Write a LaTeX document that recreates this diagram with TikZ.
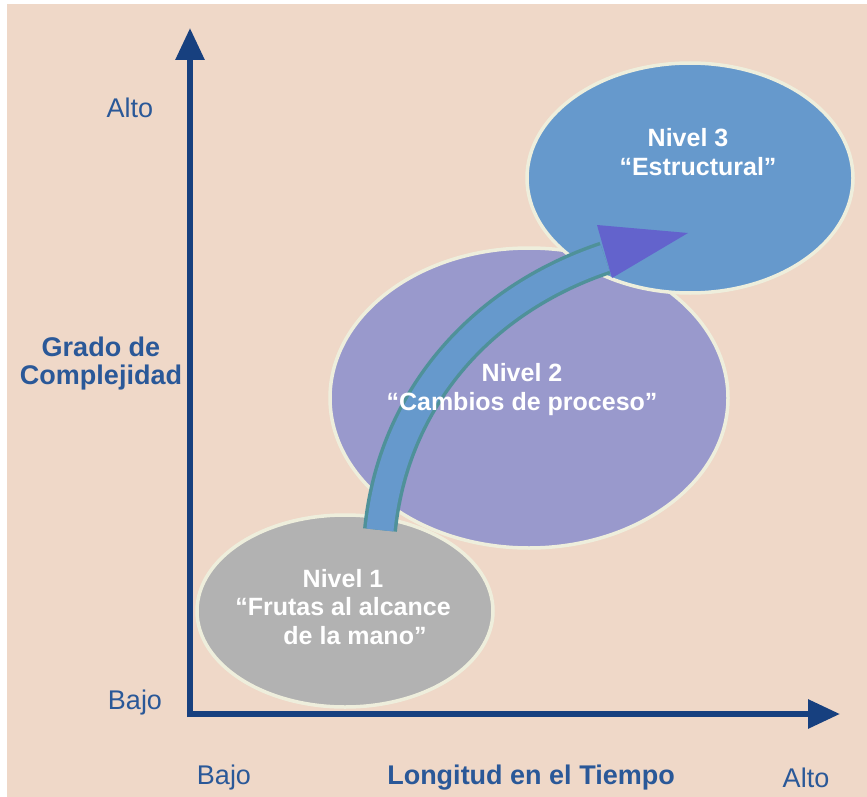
\documentclass[tikz,border=0pt]{standalone}
\usepackage{fontspec}
\setmainfont{Liberation Sans}
\usetikzlibrary{shapes.geometric,arrows.meta,calc}

\definecolor{peach}{HTML}{EFD8C8}
\definecolor{navy}{HTML}{17407F}
\definecolor{labelblue}{HTML}{2A5898}
\definecolor{rimcream}{HTML}{EEEEDC}
\definecolor{nivelone}{HTML}{B2B2B2}
\definecolor{niveltwo}{HTML}{9999CC}
\definecolor{nivelthree}{HTML}{6699CC}
\definecolor{flowedge}{HTML}{4F9199}
\definecolor{flowhead}{HTML}{6363CC}

\begin{document}
\begin{tikzpicture}[x=1pt,y=-1pt,
    level/.style={ellipse, draw=rimcream, line width=3.5pt, inner sep=0pt},
    leveltext/.style={text=white, align=center, font=\fontsize{25}{29}\selectfont\bfseries},
    axislabel/.style={text=labelblue, font=\fontsize{27}{29}\selectfont},
    axisline/.style={navy, line width=6pt, -{Triangle[length=32pt,width=28pt]}}]
\useasboundingbox (0,0) rectangle (867,797);
\fill[white] (0,0) rectangle (867,797);
\fill[peach] (7,4) rectangle (867,797);

% niveles
\node[level, fill=niveltwo, minimum width=398pt, minimum height=300pt] (n2) at (529,398) {};
\node[level, fill=nivelone, minimum width=296pt, minimum height=192pt] (n1) at (345,611) {};
\node[level, fill=nivelthree, minimum width=326pt, minimum height=230pt] (n3) at (690,178) {};

% flecha curva
\coordinate (flowstart) at (380,530);
\coordinate (flowend) at (605,258);
\draw[flowedge, line width=34pt] (flowstart) .. controls (393,400) and (480,300) .. (flowend);
\draw[nivelthree, line width=27pt] (flowstart) .. controls (393,400) and (480,300) .. (flowend);
\fill[flowhead] ($(flowend)+(-8,-33)$) -- ($(flowend)+(83,-25)$) -- ($(flowend)+(7,20)$) -- cycle;

\node[leveltext, xshift=-2pt, yshift=4pt] (t1) at (n1) {Nivel 1\\[-1pt]“Frutas al alcance\\\hspace*{24pt}de la mano”};
\node[leveltext, xshift=-7pt, yshift=8pt] (t2) at (n2) {Nivel 2\\“Cambios de proceso”};
\node[leveltext, xshift=-2pt, yshift=26pt] (t3) at (n3) {Nivel 3\\\hspace*{20pt}“Estructural”};

% ejes
\coordinate (origin) at (190,714);
\coordinate (ytop) at (190,28);
\coordinate (xend) at (840,714);
\draw[axisline] ($(origin)+(0,3)$) -- (ytop);
\draw[axisline] ($(origin)+(-3,0)$) -- (xend);

\node[axislabel] (yhigh) at (130,108) {Alto};
\node[axislabel] (ylow) at (135,703) {Bajo};
\node[axislabel, font=\fontsize{27}{28}\selectfont\bfseries, align=center] (ytitle) at (101,364) {Grado de\\Complejidad};
\node[axislabel] (xlow) at (224,778) {Bajo};
\node[axislabel, font=\fontsize{27}{29}\selectfont\bfseries] (xtitle) at (531,778) {Longitud en el Tiempo};
\node[axislabel] (xhigh) at (806,778) {Alto};
\end{tikzpicture}
\end{document}
